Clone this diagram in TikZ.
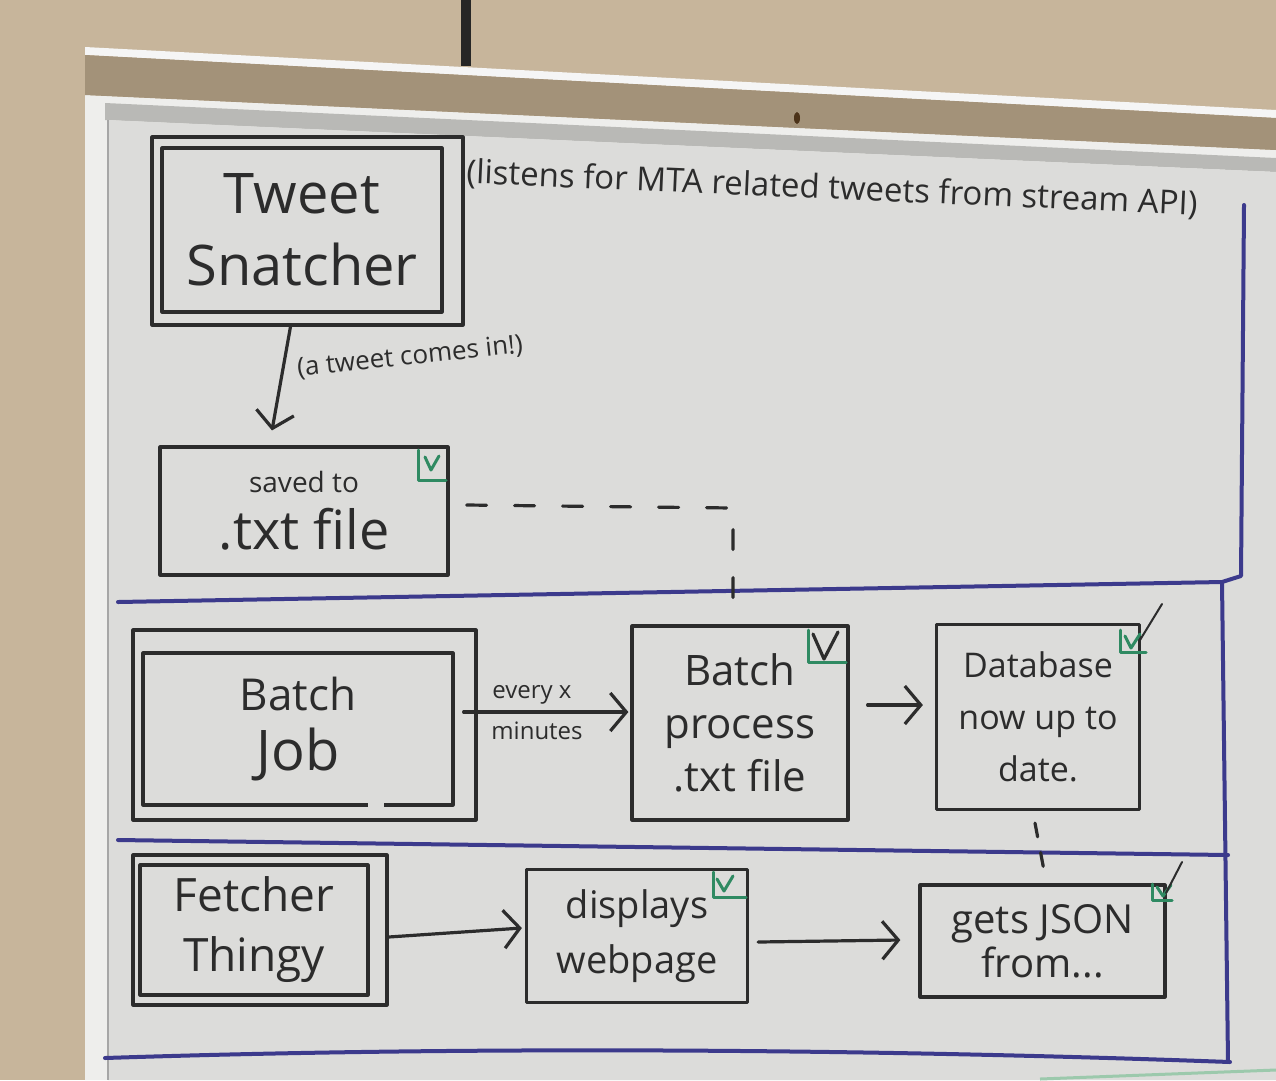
\documentclass[tikz,border=0pt]{standalone}
\usepackage{fontspec}
\setmainfont{Open Sans}
\usetikzlibrary{arrows.meta,calc}
\definecolor{wallc}{HTML}{C7B59B}
\definecolor{boardc}{HTML}{DCDCDA}
\definecolor{framec}{HTML}{EEEEEC}
\definecolor{woodc}{HTML}{A39279}
\definecolor{shadec}{HTML}{B9B9B6}
\definecolor{inkc}{HTML}{2C2C2C}
\definecolor{lanec}{HTML}{3C3A8C}
\definecolor{chkc}{HTML}{2F8A62}
\definecolor{palegreen}{HTML}{9CC9AC}
\begin{document}
\begin{tikzpicture}[x=1pt,y=-1pt,
  ink/.style={draw=inkc, line width=3.2pt, line join=round, line cap=round},
  box/.style={ink, rectangle, inner sep=0pt, align=center, text=inkc},
  lbl/.style={inner sep=0pt, text=inkc, align=center},
  arr/.style={ink, -{Straight Barb[length=16pt,width=38pt]}},
  dsh/.style={ink, dash pattern=on 20pt off 28pt},
  lane/.style={draw=lanec, line width=4pt, line cap=round, line join=round},
  chk/.style={draw=chkc, line width=3pt, line cap=round, line join=round}]
\useasboundingbox (0,0) rectangle (1276,1080);
% ---- background: wall, whiteboard, ledge
\fill[wallc] (0,0) rectangle (1276,1080);
\fill[framec] (85,95) -- (1276,150) -- (1276,1080) -- (85,1080) -- cycle;
\fill[shadec] (105,103) -- (1276,158) -- (1276,172) -- (105,120) -- cycle;
\fill[boardc] (108,120) -- (1276,172) -- (1276,1080) -- (108,1080) -- cycle;
\draw[gray!70, line width=2pt] (108,120) -- (108,1080);
\fill[white!92!gray] (85,47) -- (1276,110) -- (1276,118) -- (85,55) -- cycle;
\fill[woodc] (85,55) -- (1276,118) -- (1276,150) -- (85,95) -- cycle;
\fill[brown!40!black] (797,118) ellipse (3pt and 6pt);
\fill[black!85] (461,0) rectangle (471,66);
% ---- swim lane lines
\draw[lane] (118,602) -- (1222,582);
\draw[lane] (1244,205) -- (1241,576) -- (1222,582) -- (1228,1062);
\draw[lane] (118,840) -- (1228,855);
\draw[lane] (105,1058) .. controls (500,1045) and (900,1050) .. (1230,1062);
\draw[palegreen, line width=3pt] (1040,1079) -- (1276,1070);
% ---- lane 1
\node[box, minimum width=311pt, minimum height=188pt] (tso) at (307.5,231) {};
\node[box, minimum width=280pt, minimum height=164pt, font=\fontsize{56}{72}\selectfont] (ts) at (302,230) {Tweet\\Snatcher};
\node[lbl, rotate=-2.5, font=\fontsize{33}{36}\selectfont] (listen) at (832,189) {(listens for MTA related tweets from stream API)};
\node[box, minimum width=288pt, minimum height=128pt] (saved) at (304,511)
  {{\fontsize{28}{30}\selectfont saved to}\\[14pt]{\fontsize{54}{56}\selectfont .txt file}};
\draw[chk] (418,450) -- (418,480) -- (446,480);
\draw[chk] (425,457) -- (431,470) -- (439,456);
\draw[arr] ($(tso.south)+(-17,0)$) -- ($(saved.north)+(-32,-15)$);
\node[lbl, rotate=6, font=\fontsize{26}{30}\selectfont] (comes) at (410,357) {(a tweet comes in!)};
% ---- lane 2
\node[box, minimum width=343pt, minimum height=190pt] (bjo) at (304.5,725) {};
\node[box, minimum width=310pt, minimum height=152pt] (bj) at (298,729)
  {{\fontsize{44}{50}\selectfont Batch}\\[16pt]{\fontsize{56}{60}\selectfont Job}};
\draw[boardc, line width=4pt] (368,805) -- (384,805);
\node[box, minimum width=216pt, minimum height=194pt, font=\fontsize{42}{53}\selectfont] (bp) at (740,723) {Batch\\process\\.txt file};
\draw[chk] (808,630) -- (808,662) -- (846,662);
\draw[ink] (813,634) -- (824,659) -- (838,632);
\node[box, minimum width=203pt, minimum height=185pt, font=\fontsize{34}{52}\selectfont] (db) at (1038,717) {Database\\now up to\\date.};
\draw[chk] (1120,630) -- (1120,652) -- (1146,652);
\draw[chk] (1125,636) -- (1131,648) -- (1140,634);
\draw[ink, line width=2pt] (1140,640) -- (1162,604);
\draw[arr] ($(bjo.east)+(-14,-13)$) -- ($(bp.west)+(-2,-11)$);
\node[lbl, font=\fontsize{24}{28}\selectfont] (evx) at (532,695) {every x};
\node[lbl, font=\fontsize{24}{28}\selectfont] (mins) at (537,731) {minutes};
\draw[arr] ($(bp.east)+(18,-18)$) -- ($(db.west)+(-12,-12)$);
\coordinate (dk) at (733,508);
\draw[dsh] ($(saved.east)+(17,-6)$) -- (dk) -- (dk |- bp.north);
% ---- lane 3
\node[box, minimum width=254pt, minimum height=150pt] (fo) at (260,930) {};
\node[box, minimum width=228pt, minimum height=130pt, font=\fontsize{46}{60}\selectfont] (fetch) at (254,930) {Fetcher\\Thingy};
\node[box, minimum width=221pt, minimum height=133pt, font=\fontsize{38}{55}\selectfont] (disp) at (637,936) {displays\\webpage};
\draw[chk] (713,872) -- (713,897) -- (746,897);
\draw[chk] (717,879) -- (724,891) -- (733,876);
\node[box, minimum width=245pt, minimum height=112pt, font=\fontsize{40}{44}\selectfont] (json) at (1042.5,941) {gets JSON\\from...};
\draw[chk] (1152,884) -- (1152,900) -- (1172,900);
\draw[chk] (1157,887) -- (1163,896) -- (1171,885);
\draw[ink, line width=2pt] (1166,893) -- (1182,862);
\draw[arr] ($(fo.east)+(0,7)$) -- ($(disp.west)+(-3,-8)$);
\draw[arr] ($(disp.east)+(9,6)$) -- ($(json.west)+(-18,-1)$);
\draw[ink, dash pattern=on 14pt off 16pt] ($(db.south)+(-3,12)$) -- ($(json.north)+(3,-5)$);
\end{tikzpicture}
\end{document}
